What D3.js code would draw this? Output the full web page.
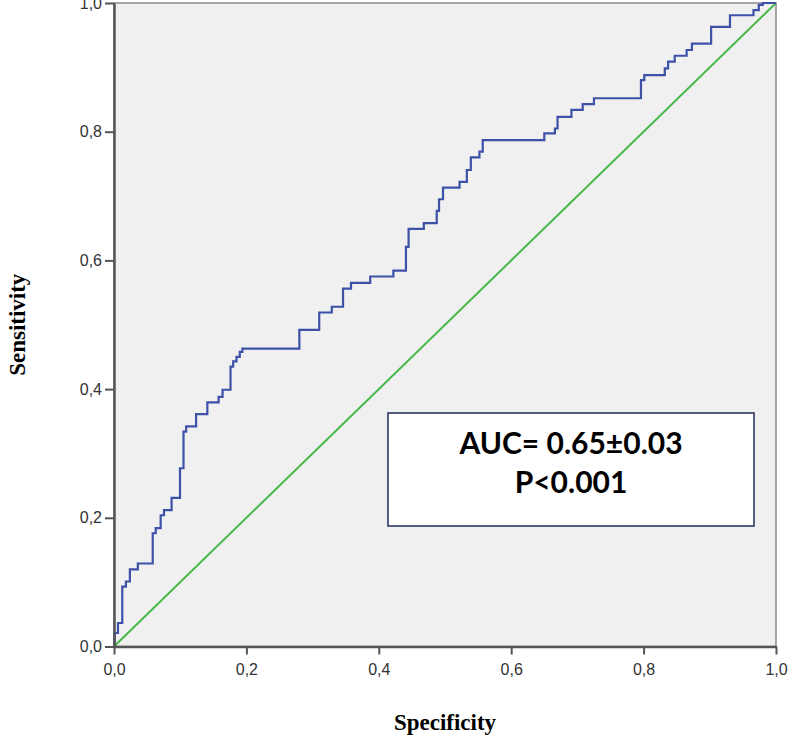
<!DOCTYPE html>
<html lang="en">
  <head>
    <meta charset="utf-8">
    <title>ROC curve</title>
    <script src="https://cdnjs.cloudflare.com/ajax/libs/d3/7.8.5/d3.min.js"></script>
    <style>
      body { margin: 0; background: #fff; }
      .tick text { font-family: "Liberation Sans", Arial, sans-serif; font-size: 16px; fill: #333; }
      .axis-title { font-family: "Liberation Serif", "Times New Roman", serif; font-weight: bold; font-size: 23px; fill: #000; }
      .note { font-family: Lato, "Open Sans", sans-serif; font-weight: bold; font-size: 30px; fill: #000; }
    </style>
  </head>
  <body>
    <div id="chart"></div>
    <script>
    // ROC step curve (1 - specificity, sensitivity)
    const fpr = [0, 0.001, 0.006, 0.0125, 0.018, 0.024, 0.036, 0.0585, 0.063, 0.0705, 0.0755,
                 0.087, 0.0997, 0.105, 0.109, 0.124, 0.141, 0.158, 0.164, 0.176, 0.180,
                 0.185, 0.190, 0.194, 0.280, 0.310, 0.329, 0.346, 0.358, 0.387, 0.422,
                 0.441, 0.445, 0.468, 0.4875, 0.491, 0.497, 0.522, 0.533, 0.539, 0.552,
                 0.557, 0.650, 0.666, 0.670, 0.691, 0.708, 0.725, 0.796, 0.801, 0.832,
                 0.837, 0.847, 0.865, 0.873, 0.902, 0.9305, 0.966, 0.974, 0.980, 1];
    const tpr = [0, 0.021, 0.0365, 0.093, 0.101, 0.120, 0.129, 0.176, 0.184, 0.204, 0.212,
                 0.231, 0.277, 0.334, 0.342, 0.361, 0.3795, 0.388, 0.399, 0.435, 0.443,
                 0.450, 0.458, 0.463, 0.492, 0.519, 0.528, 0.556, 0.565, 0.575, 0.584,
                 0.621, 0.649, 0.658, 0.677, 0.695, 0.713, 0.722, 0.7405, 0.760, 0.769,
                 0.787, 0.7975, 0.805, 0.823, 0.834, 0.843, 0.852, 0.880, 0.888, 0.8985,
                 0.909, 0.918, 0.927, 0.937, 0.963, 0.981, 0.989, 0.997, 1, 1];
    const refLine = [0, 1];
    const tickValues = [0, 0.2, 0.4, 0.6, 0.8, 1.0];
    const noteLines = ["AUC= 0.65\u00b10.03", "P<0.001"];

    const W = 788, H = 739;
    const plotL = 114, plotR = 776, plotT = 3, plotB = 646.5;

    const svg = d3.select("#chart").append("svg")
      .attr("width", W).attr("height", H);

    const x = d3.scaleLinear().domain([0, 1]).range([plotL, plotR]);
    const y = d3.scaleLinear().domain([0, 1]).range([plotB, plotT]);

    // plot background + frame
    svg.append("rect")
      .attr("x", x(0)).attr("y", y(1))
      .attr("width", x(1) - x(0)).attr("height", y(0) - y(1))
      .attr("fill", "#f0f0f0")
      .attr("stroke", "#8a8a8a").attr("stroke-width", 1.5);

    const fmt = d => d3.format(".1f")(d).replace(".", ",");

    // diagonal reference
    svg.append("line")
      .attr("x1", x(refLine[0])).attr("y1", y(refLine[0]))
      .attr("x2", x(refLine[1])).attr("y2", y(refLine[1]))
      .attr("stroke", "#45b848").attr("stroke-width", 2);

    // roc curve
    const pts = fpr.map((d, i) => [d, tpr[i]]);
    svg.append("path")
      .datum(pts)
      .attr("fill", "none")
      .attr("stroke", "#3d51a8")
      .attr("stroke-width", 2.2)
      .attr("d", d3.line().x(d => x(d[0])).y(d => y(d[1])).curve(d3.curveStepAfter));

    // axes
    const xAxis = svg.append("g")
      .attr("transform", "translate(0," + plotB + ")")
      .call(d3.axisBottom(x).tickValues(tickValues).tickFormat(fmt).tickSize(8).tickPadding(9).tickSizeOuter(0));
    const yAxis = svg.append("g")
      .attr("transform", "translate(" + plotL + ",0)")
      .call(d3.axisLeft(y).tickValues(tickValues).tickFormat(fmt).tickSize(9).tickPadding(3).tickSizeOuter(0));
    [xAxis, yAxis].forEach(g => {
      g.select(".domain").attr("stroke", "#555").attr("stroke-width", 2.5);
      g.selectAll(".tick line").attr("stroke", "#555").attr("stroke-width", 2);
    });

    // axis titles
    svg.append("text")
      .attr("class", "axis-title")
      .attr("text-anchor", "middle")
      .attr("transform", "translate(25," + ((plotT + plotB) / 2) + ") rotate(-90)")
      .text("Sensitivity");
    svg.append("text")
      .attr("class", "axis-title")
      .attr("text-anchor", "middle")
      .attr("x", (plotL + plotR) / 2)
      .attr("y", 730)
      .text("Specificity");

    // annotation box
    svg.append("rect")
      .attr("x", 388).attr("y", 413)
      .attr("width", 366).attr("height", 113)
      .attr("fill", "#fff")
      .attr("stroke", "#1f2a5c").attr("stroke-width", 1.5);
    svg.selectAll(".note")
      .data(noteLines)
      .enter().append("text")
      .attr("class", "note")
      .attr("text-anchor", "middle")
      .attr("x", 571)
      .attr("y", (d, i) => 454 + i * 39)
      .text(d => d);
    </script>
  </body>
</html>
